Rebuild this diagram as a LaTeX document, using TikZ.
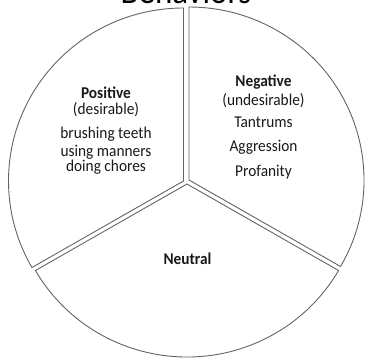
\documentclass[tikz,border=0pt]{standalone}
\usepackage{fontspec}
\setmainfont{Carlito}
\newfontfamily\lblfont[FakeStretch=0.93]{Carlito}
\definecolor{edgegray}{RGB}{100,100,100}
\definecolor{txt}{RGB}{25,25,25}
\begin{document}
\begin{tikzpicture}[x=1pt,y=1pt,
  sector/.style={draw=edgegray, line width=0.9pt, fill=white, line join=miter},
  lbl/.style={font=\lblfont\fontsize{16.5}{19}\selectfont, text=txt, anchor=base, inner sep=0pt},
  head/.style={lbl, font=\lblfont\bfseries\fontsize{16.5}{19}\selectfont}]
\useasboundingbox (0,0) rectangle (365,360);
% apexes of the three (slightly exploded) sectors
\coordinate (pa) at (183.5,179);
\coordinate (na) at (189,180);
\coordinate (za) at (187,176);
% Positive sector (upper left)
\draw[sector] (pa) -- ([shift={(90:175 and 173)}]pa)
  arc[start angle=90, end angle=210, x radius=175, y radius=173] -- cycle;
% Negative sector (upper right)
\draw[sector] (na) -- ([shift={(-30:175 and 173)}]na)
  arc[start angle=-30, end angle=90, x radius=175, y radius=173] -- cycle;
% Neutral sector (bottom)
\draw[sector] (za) -- ([shift={(210:175 and 173)}]za)
  arc[start angle=210, end angle=330, x radius=175, y radius=173] -- cycle;
% title (mostly above the page)
\node[lbl, font=\lblfont\fontsize{35.5}{38}\selectfont, text=black] (title) at (186,356) {Behaviors};
% Positive texts
\node[head] (pos) at (106,261.5) {Positive};
\node[lbl] (posd) at (106,245.5) {(desirable)};
\node[lbl] (pos1) at (106,221.5) {brushing teeth};
\node[lbl] (pos2) at (106,204) {using manners};
\node[lbl] (pos3) at (106,188.5) {doing chores};
% Negative texts
\node[head] (neg) at (263.5,274) {Negative};
\node[lbl] (negd) at (263.5,255) {(undesirable)};
\node[lbl] (neg1) at (263.5,233) {Tantrums};
\node[lbl] (neg2) at (263.5,209) {Aggression};
\node[lbl] (neg3) at (263.5,184) {Profanity};
% Neutral text
\node[head] (neu) at (187.5,96) {Neutral};
\end{tikzpicture}
\end{document}
